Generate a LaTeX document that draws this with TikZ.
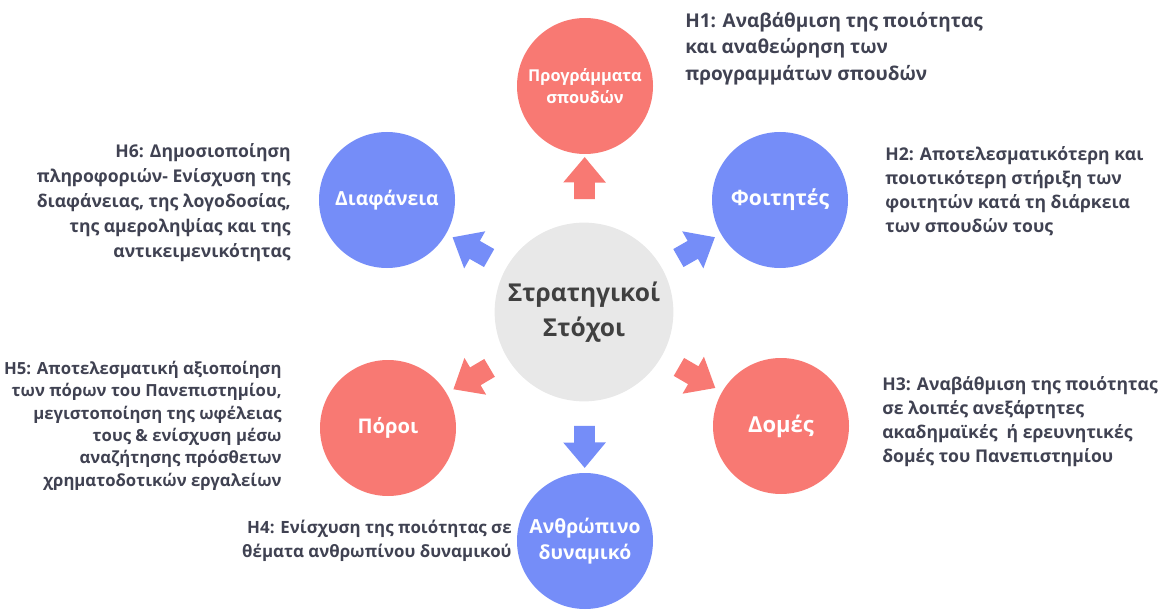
\documentclass[tikz,border=0pt]{standalone}
\usepackage{fontspec}
\setmainfont{Open Sans}
\usetikzlibrary{shapes.arrows}
\definecolor{goalred}{RGB}{248,121,115}
\definecolor{goalblue}{RGB}{117,141,248}
\definecolor{coregray}{RGB}{232,232,232}
\definecolor{notegray}{RGB}{64,66,82}

\begin{document}
\begin{tikzpicture}
		[core/.style ={circle, fill=coregray, minimum size=3.36cm, align=center, text=black!75,
		font=\bfseries\fontsize{14}{20}\selectfont},
		goal/.style ={circle, minimum size=2.72cm, align=center, text=white,
		font=\bfseries\fontsize{11}{15}\selectfont},
		red/.style ={goal, fill=goalred},
		blue/.style ={goal, fill=goalblue},
		blockarrow/.style ={single arrow, inner xsep=0pt, inner ysep=0.2cm, minimum height=0.84cm,
		single arrow head extend=0.22cm, single arrow tip angle=80, sloped, allow upside down, pos=0.5},
		note/.style ={inner sep=0pt, text=notegray, font=\bfseries\fontsize{10}{13.6}\selectfont}]
		\useasboundingbox (0,0) rectangle (23.18,12.26);
		% circles
		\draw (11.68,6.02) node[core] (C) {Στρατηγικοί\\Στόχοι};
		\draw (11.70,10.54) node[red, font=\bfseries\fontsize{9.3}{13}\selectfont] (P) {Προγράμματα\\σπουδών};
		\draw (15.60,8.26) node[blue, font=\bfseries\fontsize{12}{15}\selectfont] (F) {Φοιτητές};
		\draw (15.62,3.74) node[red, font=\bfseries\fontsize{12.5}{15}\selectfont] (D) {Δομές};
		\draw (11.70,1.44) node[blue] (A) {Ανθρώπινο\\δυναμικό};
		\draw (7.76,3.70) node[red, font=\bfseries\fontsize{11.5}{15}\selectfont] (R) {Πόροι};
		\draw (7.74,8.26) node[blue] (T) {Διαφάνεια};
		% block arrows
		\path (C) -- (P) node[blockarrow, pos=0.56, fill=goalred] (cP) {};
		\path (C) -- (F) node[blockarrow, fill=goalblue] (cF) {};
		\path (C) -- (D) node[blockarrow, fill=goalred] (cD) {};
		\path (C) -- (A) node[blockarrow, pos=0.55, fill=goalblue] (cA) {};
		\path (C) -- (R) node[blockarrow, fill=goalred] (cR) {};
		\path (C) -- (T) node[blockarrow, fill=goalblue] (cT) {};
		% goals
		\draw (13.70,12.02) node[note, anchor=north west, align=left, font=\bfseries\fontsize{10.8}{15}\selectfont] (h1)
		{H1: Αναβάθμιση της ποιότητας\\και αναθεώρηση των\\προγραμμάτων σπουδών};
		\draw (17.70,9.34) node[note, anchor=north west, align=left] (h2)
		{H2: Αποτελεσματικότερη και\\ποιοτικότερη στήριξη των\\φοιτητών κατά τη διάρκεια\\των σπουδών τους};
		\draw (17.64,4.74) node[note, anchor=north west, align=left] (h3)
		{H3: Αναβάθμιση της ποιότητας\\σε λοιπές ανεξάρτητες\\ακαδημαϊκές\ \ ή ερευνητικές\\δομές του Πανεπιστημίου};
		\draw (10.24,1.86) node[note, anchor=north east, align=right, font=\bfseries\fontsize{9.6}{13.6}\selectfont] (h4)
		{H4: Ενίσχυση της ποιότητας σε\\θέματα ανθρωπίνου δυναμικού};
		\draw (5.64,5.04) node[note, anchor=north east, align=right, font=\bfseries\fontsize{9.5}{12.7}\selectfont] (h5)
		{H5: Αποτελεσματική αξιοποίηση\\των πόρων του Πανεπιστημίου,\\μεγιστοποίηση της ωφέλειας\\τους \& ενίσχυση μέσω\\αναζήτησης πρόσθετων\\χρηματοδοτικών εργαλείων};
		\draw (5.82,9.40) node[note, anchor=north east, align=right, font=\bfseries\fontsize{10}{14.2}\selectfont] (h6)
		{H6: Δημοσιοποίηση\\πληροφοριών- Ενίσχυση της\\διαφάνειας, της λογοδοσίας,\\της αμεροληψίας και της\\αντικειμενικότητας};
\end{tikzpicture}
\end{document}
